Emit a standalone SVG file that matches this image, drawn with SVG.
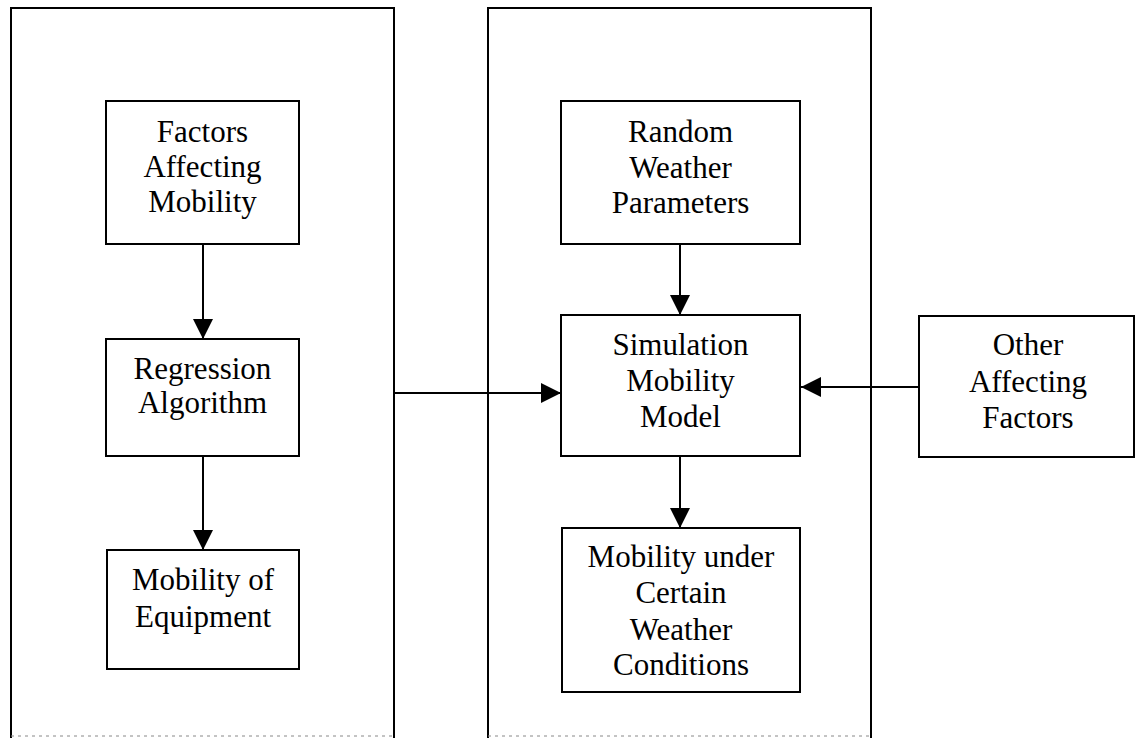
<svg xmlns="http://www.w3.org/2000/svg" width="1135" height="738" viewBox="0 0 1135 738">
  <style>
    .frame { fill: none; stroke: #000; stroke-width: 2; }
    .box { fill: #fff; stroke: #000; stroke-width: 2; }
    .edge { fill: none; stroke: #000; stroke-width: 2; }
    .faint { fill: none; stroke: #888; stroke-width: 1; stroke-dasharray: 3 4; }
    text { font-family: "Liberation Serif", "Times New Roman", serif; font-size: 31px; fill: #000; text-anchor: middle; }
  </style>
  <defs>
    <marker id="arrow" viewBox="0 0 20 20" refX="20" refY="10" markerWidth="20" markerHeight="20" markerUnits="userSpaceOnUse" orient="auto">
      <path d="M0,0 L20,10 L0,20 Z" fill="#000"/>
    </marker>
  </defs>

  <rect width="1135" height="738" fill="#fff"/>

  <!-- outer panels, open at the bottom -->
  <g id="panel-left">
    <path class="frame" d="M11,738 V8 H394 V738"/>
    <line class="faint" x1="11" y1="736" x2="394" y2="736"/>
  </g>
  <g id="panel-right">
    <path class="frame" d="M488,738 V8 H871 V738"/>
    <line class="faint" x1="488" y1="736" x2="871" y2="736"/>
  </g>

  <!-- connectors -->
  <g id="connectors">
    <line class="edge" x1="203" y1="244" x2="203" y2="339" marker-end="url(#arrow)"/>
    <line class="edge" x1="203" y1="456" x2="203" y2="550" marker-end="url(#arrow)"/>
    <line class="edge" x1="680" y1="244" x2="680" y2="315" marker-end="url(#arrow)"/>
    <line class="edge" x1="680" y1="456" x2="680" y2="528" marker-end="url(#arrow)"/>
    <line class="edge" x1="394" y1="393" x2="561" y2="393" marker-end="url(#arrow)"/>
    <line class="edge" x1="919" y1="387" x2="801" y2="387" marker-end="url(#arrow)"/>
  </g>

  <!-- left column -->
  <g id="factors-affecting-mobility">
    <rect class="box" x="106" y="101" width="193" height="143"/>
    <text x="202.5" y="142">Factors</text>
    <text x="202.5" y="177">Affecting</text>
    <text x="202.5" y="212">Mobility</text>
  </g>
  <g id="regression-algorithm">
    <rect class="box" x="106" y="339" width="193" height="117"/>
    <text x="202.5" y="379">Regression</text>
    <text x="202.5" y="413">Algorithm</text>
  </g>
  <g id="mobility-of-equipment">
    <rect class="box" x="107" y="550" width="192" height="119"/>
    <text x="203" y="590">Mobility of</text>
    <text x="203" y="627">Equipment</text>
  </g>

  <!-- right column -->
  <g id="random-weather-parameters">
    <rect class="box" x="561" y="101" width="239" height="143"/>
    <text x="680.5" y="142">Random</text>
    <text x="680.5" y="178">Weather</text>
    <text x="680.5" y="213">Parameters</text>
  </g>
  <g id="simulation-mobility-model">
    <rect class="box" x="561" y="315" width="239" height="141"/>
    <text x="680.5" y="355">Simulation</text>
    <text x="680.5" y="391">Mobility</text>
    <text x="680.5" y="427">Model</text>
  </g>
  <g id="mobility-under-weather">
    <rect class="box" x="562" y="528" width="238" height="164"/>
    <text x="681" y="567">Mobility under</text>
    <text x="681" y="603">Certain</text>
    <text x="681" y="640">Weather</text>
    <text x="681" y="675">Conditions</text>
  </g>

  <!-- external input -->
  <g id="other-affecting-factors">
    <rect class="box" x="919" y="316" width="215" height="141"/>
    <text x="1028" y="355">Other</text>
    <text x="1028" y="392">Affecting</text>
    <text x="1028" y="428">Factors</text>
  </g>
</svg>
